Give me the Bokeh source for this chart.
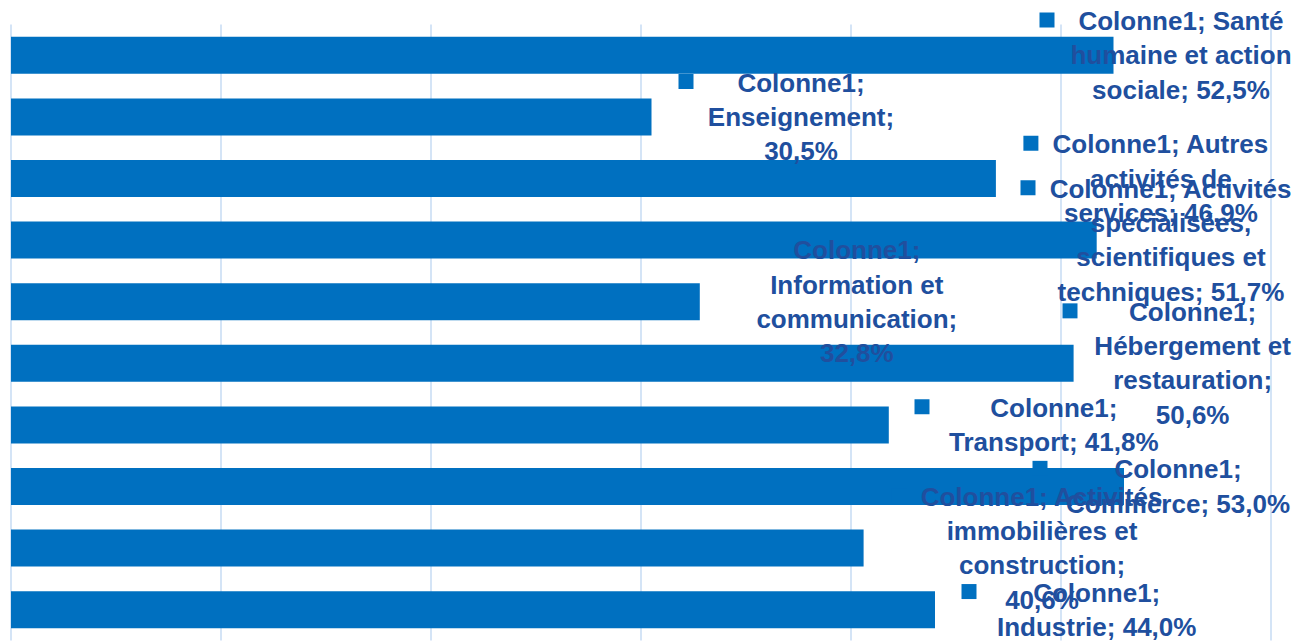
import numpy as np
from bokeh.plotting import figure
from bokeh.models import Range1d, ColumnDataSource
from bokeh.core.properties import value
from bokeh.embed import file_html
from bokeh.resources import INLINE

# ---------------- data ----------------
series_name = "Colonne1"
categories = [
    "Santé humaine et action sociale",
    "Enseignement",
    "Autres activités de services",
    "Activités spécialisées, scientifiques et techniques",
    "Information et communication",
    "Hébergement et restauration",
    "Transport",
    "Commerce",
    "Activités immobilières et construction",
    "Industrie",
]
values = [52.5, 30.5, 46.9, 51.7, 32.8, 50.6, 41.8, 53.0, 40.6, 44.0]
x_ticks = [0, 10, 20, 30, 40, 50, 60]

# ---------------- layout / style ----------------
# words per wrapped line of each data label
wrap_words = [[2, 3, 2], [1, 1, 1], [2, 2, 2], [2, 1, 2, 2], [1, 2, 1, 1],
              [1, 2, 1, 1], [1, 2], [1, 2], [2, 2, 1, 1], [1, 2]]
# horizontal offsets (px) of label block centre and legend key from bar end
label_dx = [67.5, 149.5, 165, 74.3, 157, 119, 165, 54, 178.4, 161.7]
marker_dx = [-66.5, 34.5, 35, -68.7, 35.4, -3.6, 33.2, -84, 35.6, 34]

BAR_COLOR = "#0070C0"
TEXT_COLOR = "#204F9E"
GRID_COLOR = "#C6DBF3"
FONT = "Liberation Sans"
FONT_SIZE = "26px"
LINE_H = 34.3

W, H = 1297, 642
PX_X = 21.0          # pixels per percent
PX_Y = 61.6          # pixels per category band
x0 = -10.5 / PX_X
y_top = -0.5 - 24.0 / PX_Y

p = figure(width=W, height=H, output_backend="svg", toolbar_location=None,
           x_range=Range1d(x0, x0 + W / PX_X),
           y_range=Range1d(y_top + H / PX_Y, y_top),
           min_border=0, min_border_left=0, min_border_right=0,
           min_border_top=0, min_border_bottom=0)
p.axis.visible = False
p.grid.visible = False
p.outline_line_color = None
p.background_fill_color = "white"
p.border_fill_color = "white"

idx = list(range(len(categories)))

# grid lines
p.segment(x0=x_ticks, x1=x_ticks, y0=[-0.5] * len(x_ticks),
          y1=[len(categories) - 0.5] * len(x_ticks),
          line_color=GRID_COLOR, line_width=1.5)

# bars
src = ColumnDataSource(dict(y=idx, right=values, cat=categories))
p.hbar(y="y", left=0, right="right", height=0.6, source=src,
       fill_color=BAR_COLOR, line_color=None)

# data labels
tx, ty, txo, tyo, tt = [], [], [], [], []
mx, my = [], []
for i, (cat, v) in enumerate(zip(categories, values)):
    full = f"{series_name}; {cat}; {v:.1f}%".replace(".", ",")
    words = full.split(" ")
    lines, k = [], 0
    for c in wrap_words[i]:
        lines.append(" ".join(words[k:k + c]))
        k += c
    n = len(lines)
    first = -(n - 1) / 2 * LINE_H
    for j, ln in enumerate(lines):
        tx.append(v)
        ty.append(i)
        txo.append(label_dx[i])
        tyo.append(first + j * LINE_H)
        tt.append(ln)
    mx.append(v + marker_dx[i] / PX_X)
    my.append(i + (first - 1.0) / PX_Y)

p.rect(x=mx, y=my, width=15, height=15, width_units="screen",
       height_units="screen", fill_color=BAR_COLOR, line_color=None)

tsrc = ColumnDataSource(dict(x=tx, y=ty, xo=txo, yo=tyo, t=tt))
p.text(x="x", y="y", text="t", x_offset="xo", y_offset="yo", source=tsrc,
       text_align="center", text_baseline="alphabetic",
       text_font=value(FONT), text_font_style="bold",
       text_font_size=FONT_SIZE, text_color=TEXT_COLOR)

open("out.html", "w").write(file_html(p, INLINE))
